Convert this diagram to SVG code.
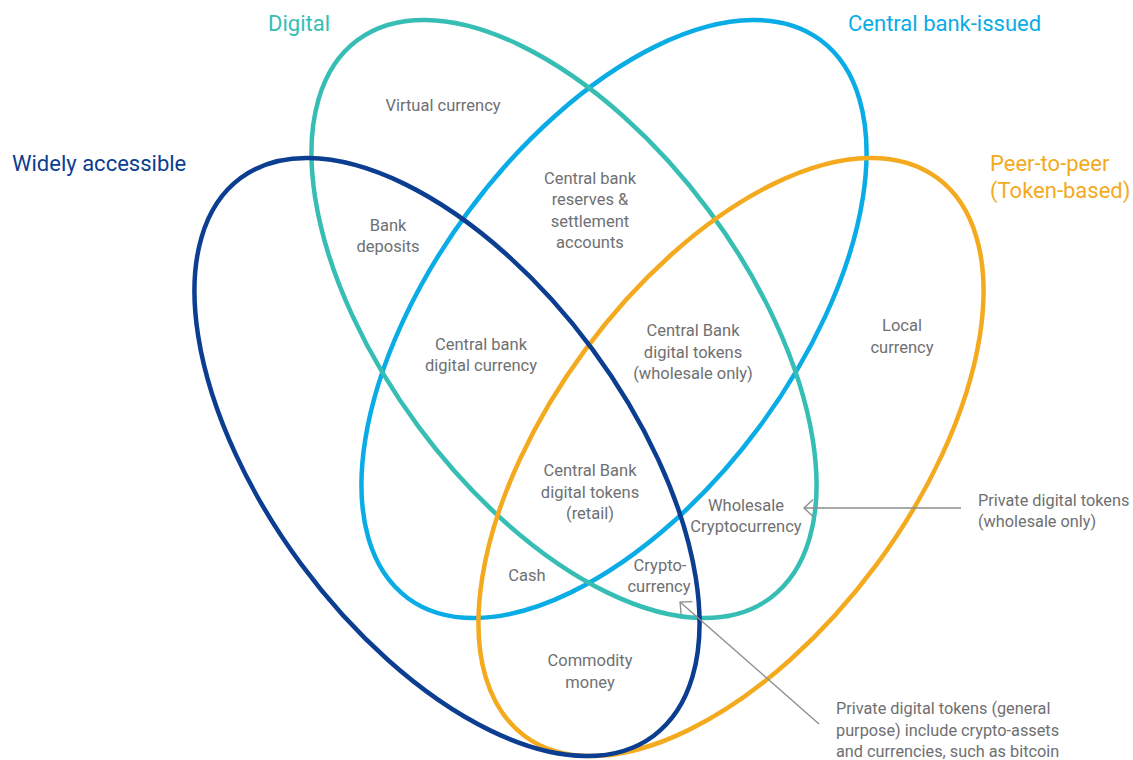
<svg xmlns="http://www.w3.org/2000/svg" width="1133" height="760" viewBox="0 0 1133 760">
<defs>
<style>
.ring{fill:none;stroke-width:4.5}
.t{font-family:Roboto,"Liberation Sans",Arial,sans-serif;font-size:16.5px;fill:#6f7072;text-anchor:middle}
.tl{font-family:Roboto,"Liberation Sans",Arial,sans-serif;font-size:16.3px;fill:#6f7072}
.h{font-family:Roboto,"Liberation Sans",Arial,sans-serif;font-size:22px}
.conn{fill:none;stroke:#8c8c8c;stroke-width:1.3}
</style>
<marker id="chev" markerWidth="14" markerHeight="20" refX="11" refY="10" orient="auto" markerUnits="userSpaceOnUse">
<path d="M2,1.5 L11,10 L2,18.5" fill="none" stroke="#8c8c8c" stroke-width="1.3"/>
</marker>
</defs>
<rect width="1133" height="760" fill="#ffffff"/>
<g id="central-bank-issued">
<ellipse class="ring" cx="614" cy="319" rx="347" ry="181" transform="rotate(-53.5 614 319)" stroke="#0aace6"/>
<text class="h" x="848" y="31" fill="#0aace6">Central bank-issued</text>
</g>
<g id="digital">
<ellipse class="ring" cx="564" cy="319" rx="347" ry="181" transform="rotate(53.5 564 319)" stroke="#36bdb4"/>
<text class="h" x="268" y="31" fill="#36bdb4">Digital</text>
</g>
<g id="peer-to-peer">
<ellipse class="ring" cx="731" cy="457" rx="347" ry="181" transform="rotate(-53.5 731 457)" stroke="#f4aa1e"/>
<text class="h" x="990" y="171" fill="#f4aa1e">Peer-to-peer</text>
<text class="h" x="990" y="198" fill="#f4aa1e">(Token-based)</text>
</g>
<g id="widely-accessible">
<ellipse class="ring" cx="447" cy="457" rx="347" ry="181" transform="rotate(53.5 447 457)" stroke="#0b3d91"/>
<text class="h" x="12" y="171" fill="#0b3d91">Widely accessible</text>
</g>
<g id="labels">
<text class="t" x="443" y="111">Virtual currency</text>
<text class="t" x="590" y="184">Central bank</text>
<text class="t" x="590" y="205">reserves &amp;</text>
<text class="t" x="590" y="227">settlement</text>
<text class="t" x="590" y="248">accounts</text>
<text class="t" x="388" y="231">Bank</text>
<text class="t" x="388" y="252">deposits</text>
<text class="t" x="481" y="350">Central bank</text>
<text class="t" x="481" y="371">digital currency</text>
<text class="t" x="693" y="336">Central Bank</text>
<text class="t" x="693" y="358">digital tokens</text>
<text class="t" x="693" y="379">(wholesale only)</text>
<text class="t" x="902" y="331">Local</text>
<text class="t" x="902" y="353">currency</text>
<text class="t" x="590" y="476">Central Bank</text>
<text class="t" x="590" y="498">digital tokens</text>
<text class="t" x="590" y="519">(retail)</text>
<text class="t" x="746" y="511">Wholesale</text>
<text class="t" x="746" y="532">Cryptocurrency</text>
<text class="t" x="527" y="581">Cash</text>
<text class="t" x="660" y="571">Crypto-</text>
<text class="t" x="659" y="592">currency</text>
<text class="t" x="590" y="666">Commodity</text>
<text class="t" x="590" y="688">money</text>
</g>
<g id="connectors">
<line class="conn" x1="961" y1="508" x2="804" y2="508" marker-end="url(#chev)"/>
<line class="conn" x1="819" y1="724" x2="680" y2="602" marker-end="url(#chev)"/>
</g>
<g id="callouts">
<text class="tl" x="978" y="506">Private digital tokens</text>
<text class="tl" x="978" y="527">(wholesale only)</text>
<text class="tl" x="836" y="714">Private digital tokens (general</text>
<text class="tl" x="836" y="736">purpose) include crypto-assets</text>
<text class="tl" x="836" y="757">and currencies, such as bitcoin</text>
</g>
</svg>
